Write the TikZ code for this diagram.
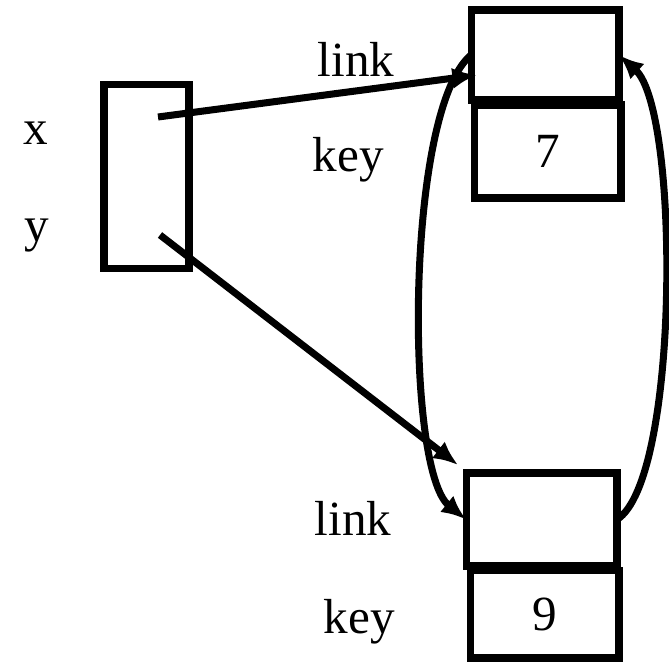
\documentclass[tikz,border=0pt]{standalone}
\usepackage{fontspec}
\setmainfont{Liberation Serif}
\usetikzlibrary{arrows.meta, calc}

\begin{document}
\begin{tikzpicture}[x=0.02cm, y=-0.02cm, every node/.style={outer sep=0pt, inner sep=0pt, font=\fontsize{28}{34}\selectfont}]
	\tikzstyle{cell}=[
		draw,
		line width=4pt
	]
	\tikzstyle{ptr}=[
		line width=4pt,
		-{Latex[length=14pt, width=12pt]}
	]
	\tikzstyle{lbl}=[anchor=base]

	\useasboundingbox (0,0) rectangle (669,662);

	% the two variables
	\node (vars) at (146.5,176.5) [cell, minimum width=1.7cm, minimum height=3.7cm] {};
	\node (xlbl) at (36,145) [lbl] {x};
	\node (ylbl) at (37,241) [lbl] {y};
	\coordinate (xp) at (158,117);
	\coordinate (yp) at (160,235);

	% first record
	\node (link1) at (545,55) [cell, minimum width=2.96cm, minimum height=1.8cm] {};
	\node (key1) at (547.5,151.5) [cell, minimum width=2.94cm, minimum height=1.86cm] {7};
	\node (link1lbl) at (356,77) [lbl] {link};
	\node (key1lbl) at (348.5,172) [lbl] {key};

	% second record
	\node (link2) at (541.5,519.5) [cell, minimum width=3.02cm, minimum height=1.86cm] {};
	\node (key2) at (544.5,614) [cell, minimum width=2.98cm, minimum height=1.76cm] {9};
	\node (link2lbl) at (353,535) [lbl] {link};
	\node (key2lbl) at (359.5,633) [lbl] {key};

	% pointers
	\draw [ptr] (xp) -- ($(link1.west)+(6,20)$);
	\draw [ptr] (yp) -- ($(link2.north west)+(-8,-8)$);
	\draw [ptr] (link1.west) .. controls +(-66,55) and +(-61,-49.5) .. (link2.west);
	\draw [ptr] (link2.east) .. controls +(63,-39.5) and +(61,55) .. (link1.east);
\end{tikzpicture}
\end{document}
